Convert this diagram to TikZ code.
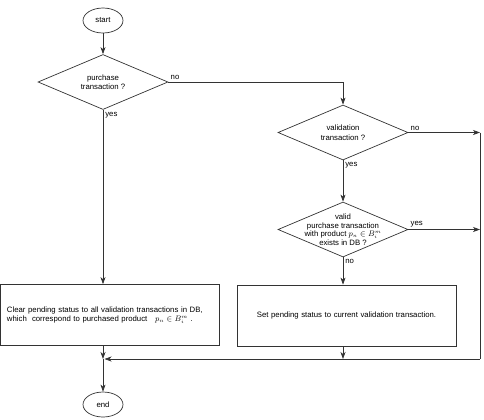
\documentclass[tikz,border=0pt]{standalone}
\usepackage{amsmath,amssymb}
\usepackage{fontspec}
\setmainfont{Liberation Sans}
\usetikzlibrary{shapes.geometric,arrows.meta}

\tikzset{
  flow/.style={-{Stealth[length=7bp,width=5bp,inset=2bp]},draw=black!80,line width=0.7bp},
  line/.style={draw=black!80,line width=0.7bp},
  terminal/.style={ellipse,draw=black!80,line width=0.7bp,minimum width=40bp,minimum height=25bp,inner sep=0pt},
  decision/.style={diamond,draw=black!80,line width=0.7bp,minimum width=130bp,minimum height=55bp,inner sep=0pt},
  dtext/.style={align=center,inner sep=0pt},
  process/.style={rectangle,draw=black!80,line width=0.7bp,minimum width=219bp,minimum height=61bp},
  tag/.style={inner sep=2bp}
}

\begin{document}
\begin{tikzpicture}[x=1bp, y=-1bp, every node/.style={font=\fontsize{7.8}{9.6}\selectfont}]
\useasboundingbox (0,0) rectangle (484,419);

% ---------- LEFT BRANCH ----------
\node[terminal] (start) at (103,20.5) {start};
\node[decision, label={[dtext]center:purchase\\transaction ?}] (purch) at (103,82) {};
\node[process, text width=205bp, align=left] (clear) at (109.5,315)
  {Clear pending status to all validation transactions in DB,\\
   which\ \ correspond to purchased product\quad $p_n \in B_i^m$ .};
\node[terminal] (end) at (103,404.5) {end};

% ---------- RIGHT BRANCH ----------
\node[decision, label={[dtext]center:validation\\transaction ?}] (valtr) at (343,132.5) {};
\node[decision, label={[dtext, font=\fontsize{7.8}{8.6}\selectfont]center:valid\\purchase transaction\\with product $p_n \in B_i^m$\\exists in DB ?}] (exists) at (343,229.5) {};
\node[process, text width=205bp, align=center] (setp) at (346.5,315.5)
  {Set pending status to current validation transaction.};

% Join points
\coordinate (rtop) at (480,132.5);
\coordinate (rmid) at (480,229.5);
\coordinate (rbot) at (480,359);
\coordinate (join) at (103,359);
\coordinate (sjoin) at (343,359);

% ---------- CONNECTORS ----------
\draw[flow] (start) -- (purch);
\draw[flow] (purch.east) node[tag, above right] {no} -| (valtr.north);
\draw[flow] (purch.south) node[tag, below right] {yes} -- (purch.south |- clear.north);
\draw[flow] (valtr.east) node[tag, above right] {no} -- (rtop);
\draw[flow] (valtr.south) node[tag, below right] {yes} -- (exists.north);
\draw[flow] (exists.east) node[tag, above right] {yes} -- (rmid);
\draw[flow] (exists.south) node[tag, below right] {no} -- (exists.south |- setp.north);
\draw[flow] (setp.south -| sjoin) -- (sjoin);
\draw[flow] (clear.south -| join) -- (join);
\draw[line] (rtop) -- (rbot);
\draw[flow] (rbot) -- ([xshift=1.5bp]join);
\draw[flow] (join) -- (end);

\end{tikzpicture}
\end{document}
